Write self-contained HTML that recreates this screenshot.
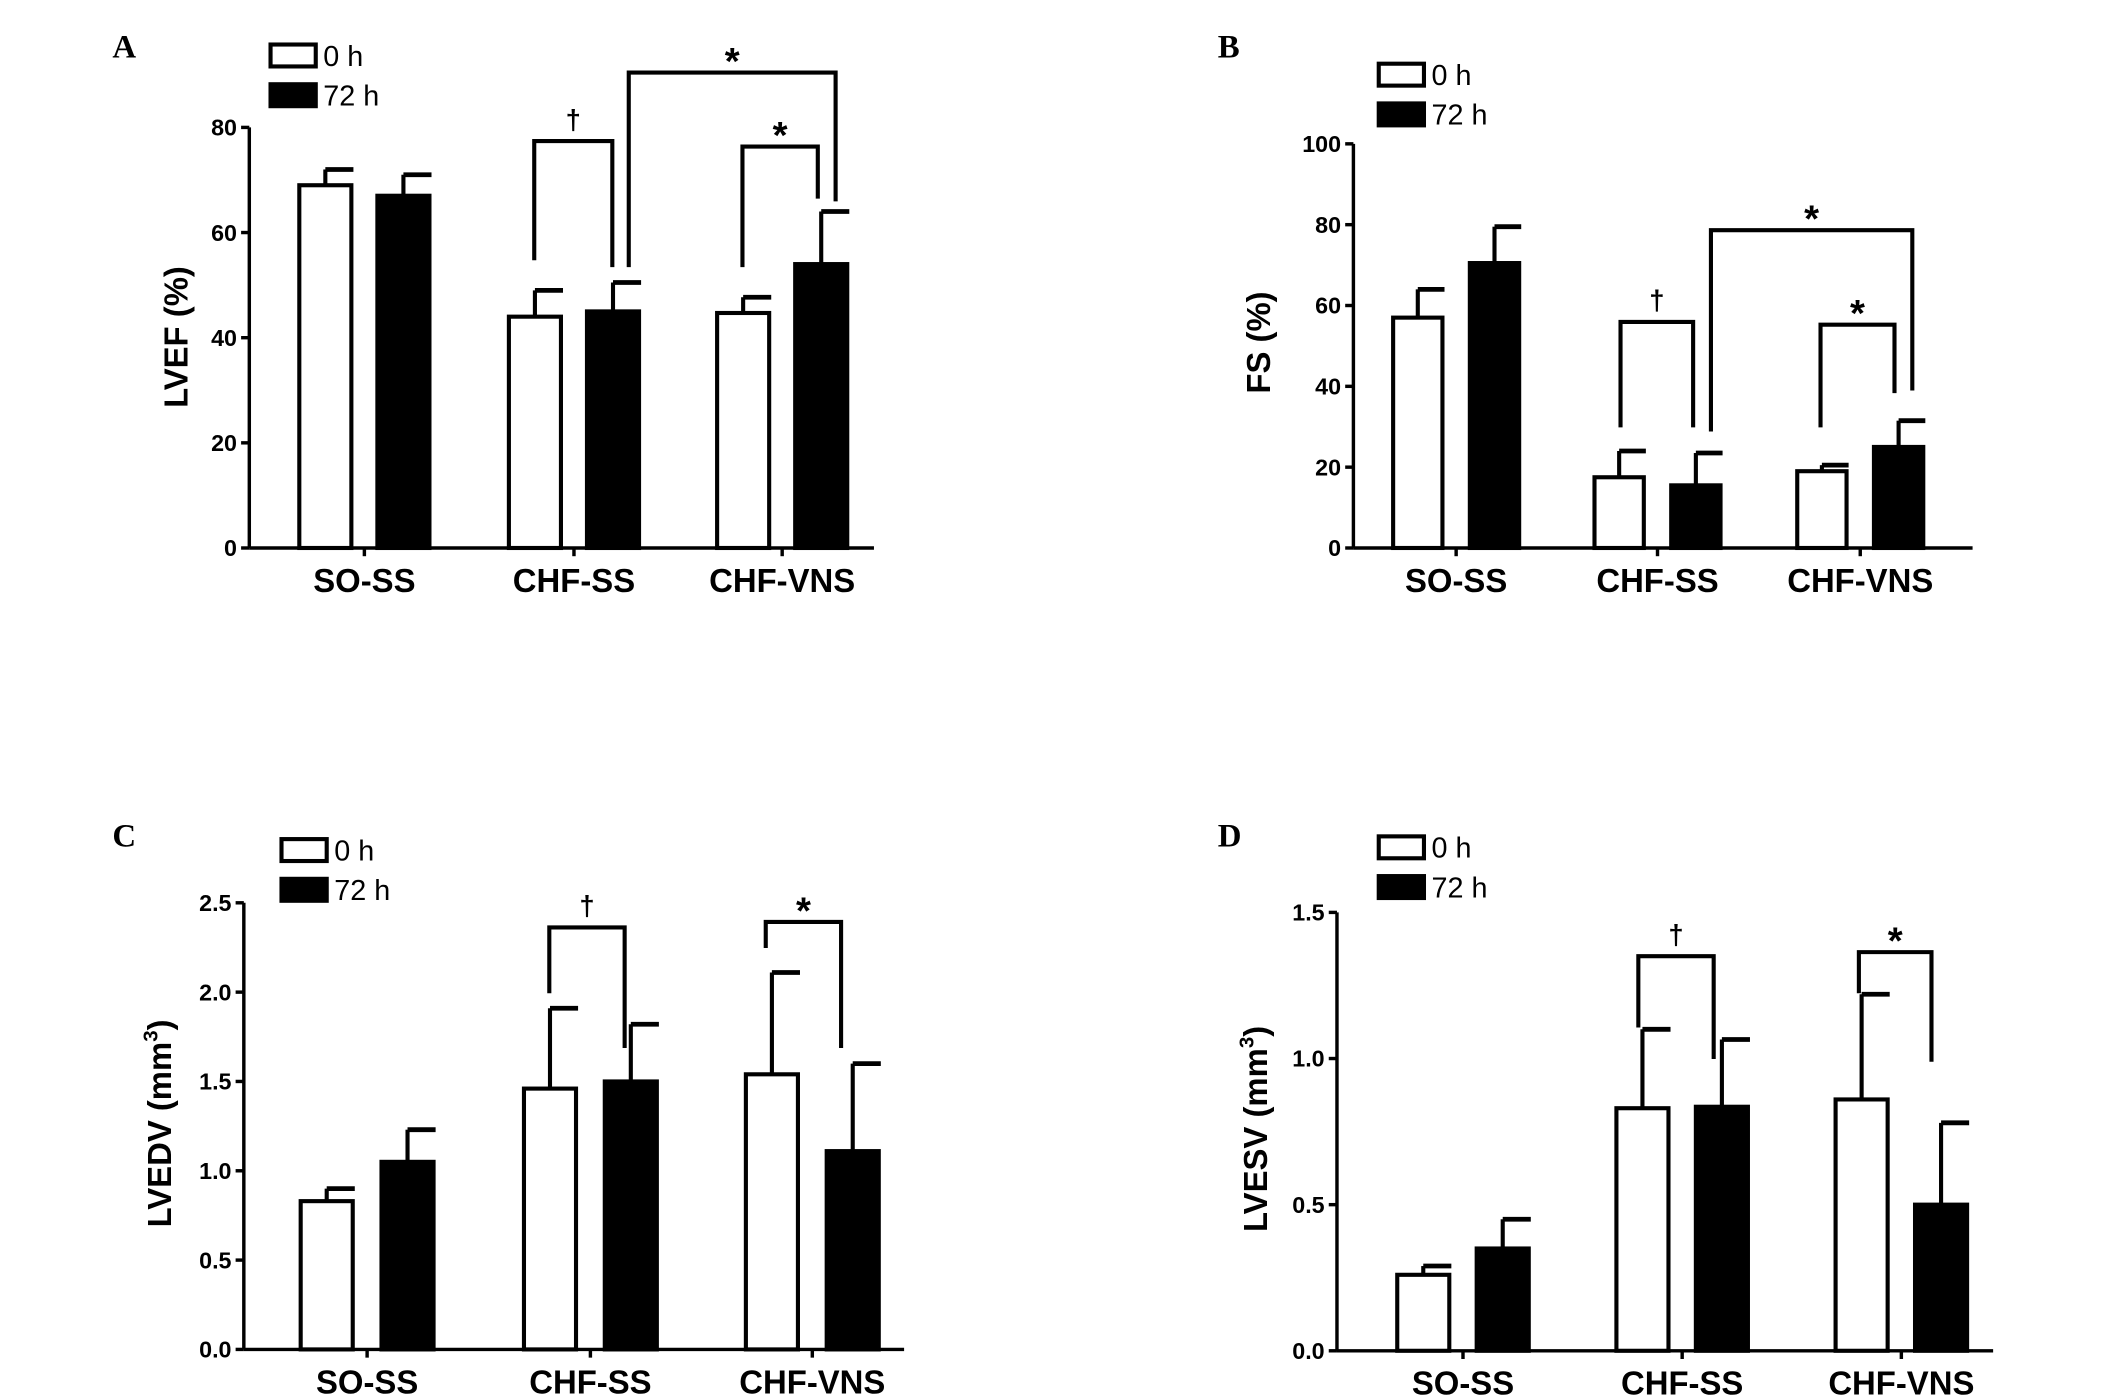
<!DOCTYPE html>
<html><head><meta charset="utf-8"><style>
html,body{margin:0;padding:0;background:#fff;}
svg{display:block;}
text{font-family:"Liberation Sans",sans-serif;font-weight:bold;fill:#000;}
.lt{font-family:"Liberation Serif",serif;font-size:24px;}
</style></head><body>
<svg id="fig" width="2126" height="1396" viewBox="0 0 1552 1019" preserveAspectRatio="none" xmlns="http://www.w3.org/2000/svg"></svg>
<script>
const categories = ["SO-SS","CHF-SS","CHF-VNS"];
const seriesNames = ["0 h","72 h"];
const aMean0 = [69, 44, 44.7], aErr0 = [3, 5, 3];
const aMean72 = [67, 45, 54], aErr72 = [4, 5.5, 10];
const aTicks = [0,20,40,60,80];
const bMean0 = [57, 17.5, 19], bErr0 = [7, 6.5, 1.5];
const bMean72 = [70.5, 15.5, 25], bErr72 = [9, 8, 6.5];
const bTicks = [0,20,40,60,80,100];
const cMean0 = [0.83, 1.46, 1.54], cErr0 = [0.07, 0.45, 0.57];
const cMean72 = [1.05, 1.50, 1.11], cErr72 = [0.18, 0.32, 0.49];
const cTicks = ["0.0","0.5","1.0","1.5","2.0","2.5"];
const dMean0 = [0.26, 0.83, 0.86], dErr0 = [0.03, 0.27, 0.36];
const dMean72 = [0.35, 0.835, 0.50], dErr72 = [0.10, 0.23, 0.28];
const dTicks = ["0.0","0.5","1.0","1.5"];

const NS="http://www.w3.org/2000/svg";
const svg=document.getElementById('fig');
function mk(tag,attrs,parent,txt){const e=document.createElementNS(NS,tag);for(const k in attrs)e.setAttribute(k,attrs[k]);if(txt!==undefined)e.textContent=txt;(parent||svg).appendChild(e);return e;}

function panel(cfg){
  const g=mk('g',{});
  
  
  const ticks=cfg.ticks.map(Number);
  const vmax=ticks[ticks.length-1];
  const y=v=>cfg.y0-(cfg.y0-cfg.yTop)*v/vmax;
  const t=mk('text',{x:cfg.lx,y:cfg.ly,class:'lt'},g,cfg.letter);
  
  
  const ya=mk('line',{x1:cfg.ax,y1:cfg.yTop,x2:cfg.ax,y2:cfg.y0,stroke:'#000','stroke-width':2.5},g);
  
  
  const xa=mk('line',{x1:cfg.ax,y1:cfg.y0,x2:cfg.axEnd,y2:cfg.y0,stroke:'#000','stroke-width':2.5},g);
  
  
  cfg.ticks.forEach(tv=>{
    const yy=y(Number(tv));
    mk('line',{x1:cfg.ax-6,y1:yy,x2:cfg.ax,y2:yy,stroke:'#000','stroke-width':2.5},g);
    const tl=mk('text',{x:cfg.ax-9,y:yy+6,'text-anchor':'end','font-size':17},g,tv);
    
    
  });
  const yl=mk('text',{x:0,y:0,'text-anchor':'middle','font-size':24,transform:`translate(${cfg.ylx},${cfg.yly}) rotate(-90)`},g);
  
  
  yl.innerHTML=cfg.ytitle;
  const means=[cfg.m0,cfg.m72], errs=[cfg.e0,cfg.e72];
  categories.forEach((c,i)=>{
    const cx=cfg.centers[i];
    mk('line',{x1:cx,y1:cfg.y0,x2:cx,y2:cfg.y0+6,stroke:'#000','stroke-width':2.5},g);
    const cl=mk('text',{x:cx,y:cfg.y0+32,'text-anchor':'middle','font-size':24},g,c);
    
    
    [0,1].forEach(s=>{
      const bx=s===0?cx-cfg.bw-cfg.gap/2:cx+cfg.gap/2;
      const top=y(means[s][i]), et=y(means[s][i]+errs[s][i]);
      const bc=bx+cfg.bw/2;
      const eb=mk('line',{x1:bc,y1:top,x2:bc,y2:et,stroke:'#000','stroke-width':3},g);
      
      
      mk('line',{x1:bc,y1:et,x2:bc+cfg.bw/2,y2:et,stroke:'#000','stroke-width':3.5},g);
      const r=mk('rect',{x:bx+1.5,y:top,width:cfg.bw-3,height:cfg.y0-top,fill:s?'#000':'#fff',stroke:'#000','stroke-width':3},g);
      
      
    });
  });
  seriesNames.forEach((n,s)=>{
    const ly=cfg.legY+s*29;
    const lr=mk('rect',{x:cfg.legX+1.5,y:ly+1.5,width:33,height:16,fill:s?'#000':'#fff',stroke:'#000','stroke-width':3},g);
    
    
    const lt=mk('text',{x:cfg.legX+40,y:ly+17,'font-size':21,style:'font-weight:normal'},g,n);
    
    
  });
  cfg.brackets.forEach(b=>{
    const p=mk('path',{d:`M${b[0]} ${b[3]} L${b[0]} ${b[2]} L${b[1]} ${b[2]} L${b[1]} ${b[4]}`,fill:'none',stroke:'#000','stroke-width':3},g);
    
    
    const st=mk('text',{x:(b[0]+b[1])/2,y:b[2]-(b[5]==='*'?-1:9),'text-anchor':'middle','font-size':b[5]==='*'?28:20},g,b[5]);
    
    
  });
}

panel({letter:'A',lx:82,ly:42,ax:182,axEnd:638,y0:400,yTop:93,ticks:aTicks,centers:[266,419,571],bw:41,gap:16,
  m0:aMean0,e0:aErr0,m72:aMean72,e72:aErr72,ytitle:'LVEF (%)',ylx:137,yly:246,legX:196,legY:31,
  brackets:[[390,447,103,190,195,'†'],[459,610,53,195,147,'*'],[542,597,107,195,145,'*']]});
panel({letter:'B',lx:889,ly:42,ax:988,axEnd:1440,y0:400,yTop:105,ticks:bTicks,centers:[1063,1210,1358],bw:39,gap:17,
  m0:bMean0,e0:bErr0,m72:bMean72,e72:bErr72,ytitle:'FS (%)',ylx:927,yly:250,legX:1005,legY:45,
  brackets:[[1183,1236,235,312,312,'†'],[1249,1396,168,315,285,'*'],[1329,1383,237,312,287,'*']]});
panel({letter:'C',lx:82,ly:618,ax:178,axEnd:660,y0:985,yTop:659,ticks:cTicks,centers:[268,431,593],bw:41,gap:18,
  m0:cMean0,e0:cErr0,m72:cMean72,e72:cErr72,ytitle:'LVEDV (mm<tspan dy="-10" font-size="15">3</tspan><tspan dy="10">)</tspan>',ylx:125,yly:820,legX:204,legY:611,
  brackets:[[401,456,677,725,765,'†'],[559,614,673,692,765,'*']]});
panel({letter:'D',lx:889,ly:618,ax:976,axEnd:1455,y0:986,yTop:666,ticks:dTicks,centers:[1068,1228,1388],bw:41,gap:17,
  m0:dMean0,e0:dErr0,m72:dMean72,e72:dErr72,ytitle:'LVESV (mm<tspan dy="-10" font-size="15">3</tspan><tspan dy="10">)</tspan>',ylx:925,yly:824,legX:1005,legY:609,
  brackets:[[1196,1251,698,750,773,'†'],[1357,1410,695,725,775,'*']]});
</script>
</body></html>
